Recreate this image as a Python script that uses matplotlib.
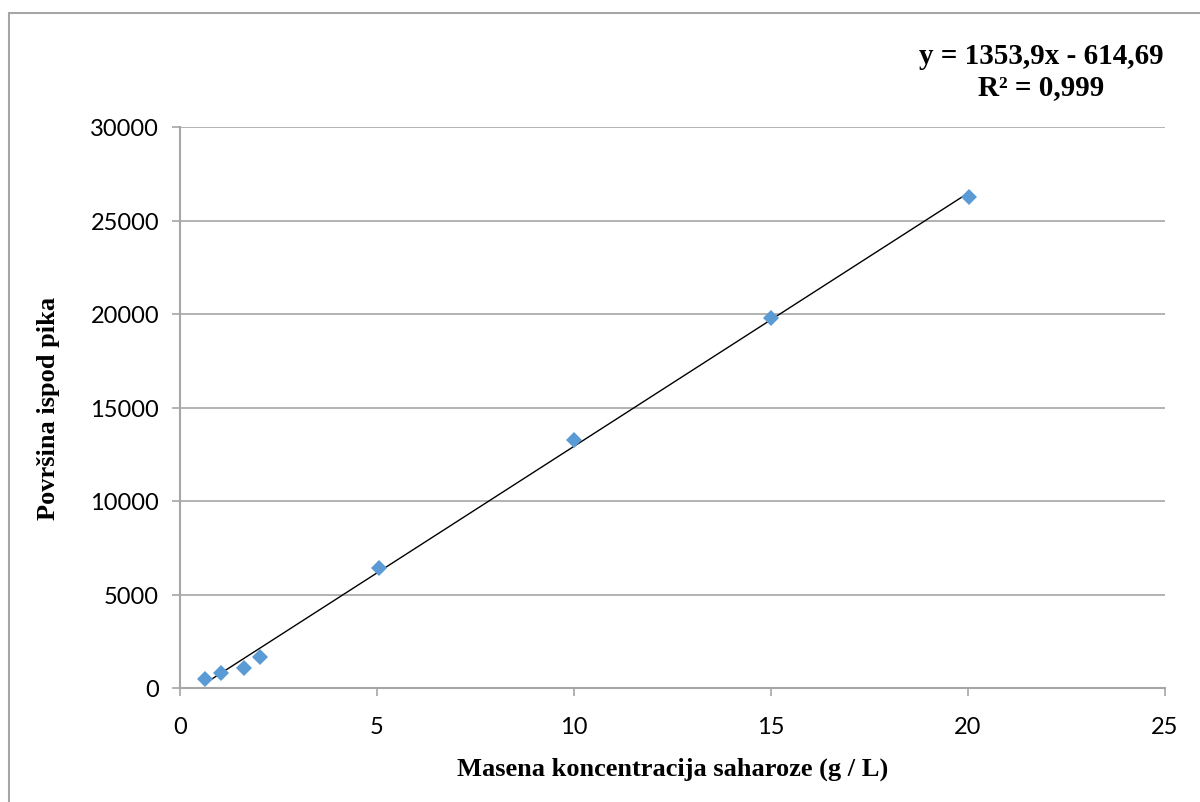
import matplotlib.pyplot as plt
from matplotlib.patches import Rectangle
import numpy as np

# calibration data
conc = [0.64, 1.04, 1.63, 2.03, 5.04, 10.0, 15.0, 20.03]
area = [480, 790, 1060, 1650, 6420, 13250, 19790, 26230]

slope = 1353.9
intercept = -614.69
eq_text = "y = 1353,9x - 614,69\nR² = 0,999"

x_ticks = [0, 5, 10, 15, 20, 25]
y_ticks = [0, 5000, 10000, 15000, 20000, 25000, 30000]

GRAY = "#A6A6A6"

fig = plt.figure(figsize=(12, 8.03), dpi=100)
ax = fig.add_axes([180 / 1200, 1 - 689 / 803, (1165 - 180) / 1200, (689 - 128) / 803])

# outer chart border (only top/left visible in the original crop)
fig.patches.append(Rectangle((9 / 1200, -0.1), 1.2, 1 - 14 / 803 + 0.1,
                             transform=fig.transFigure, fill=False,
                             edgecolor=GRAY, linewidth=1.5))

xs = np.array([min(conc), max(conc)])
ax.plot(xs, slope * xs + intercept, color="black", linewidth=1.0, zorder=2)
ax.plot(conc, area, linestyle="none", marker="D", markersize=8,
        color="#5B9BD5", markeredgewidth=0, zorder=3)

ax.set_xlim(0, 25)
ax.set_ylim(0, 30000)
ax.set_xticks(x_ticks)
ax.set_yticks(y_ticks)
ax.set_xticklabels([str(t) for t in x_ticks])
ax.set_yticklabels([str(t) for t in y_ticks])

ax.grid(axis="y", color=GRAY, linewidth=1.2)
ax.set_axisbelow(True)
for s in ["top", "right"]:
    ax.spines[s].set_visible(False)
for s in ["left", "bottom"]:
    ax.spines[s].set_color(GRAY)
    ax.spines[s].set_linewidth(1.5)
ax.tick_params(axis="both", direction="out", length=6, width=1.2, color=GRAY,
               labelsize=17)
ax.tick_params(axis="x", pad=14)
ax.tick_params(axis="y", pad=9)
for lab in ax.get_xticklabels() + ax.get_yticklabels():
    lab.set_fontfamily("Lato")

ax.set_xlabel("Masena koncentracija saharoze (g / L)", fontsize=19,
              fontweight="bold", family="Liberation Serif", labelpad=14)
ax.set_ylabel("Površina ispod pika", fontsize=19, fontweight="bold",
              family="Liberation Serif", labelpad=22)

fig.text(1041 / 1200, 1 - 72 / 803, eq_text, ha="center", va="center",
         fontsize=21, fontweight="bold", family="Liberation Serif",
         linespacing=1.2)

fig.savefig("out.png", dpi=100)
